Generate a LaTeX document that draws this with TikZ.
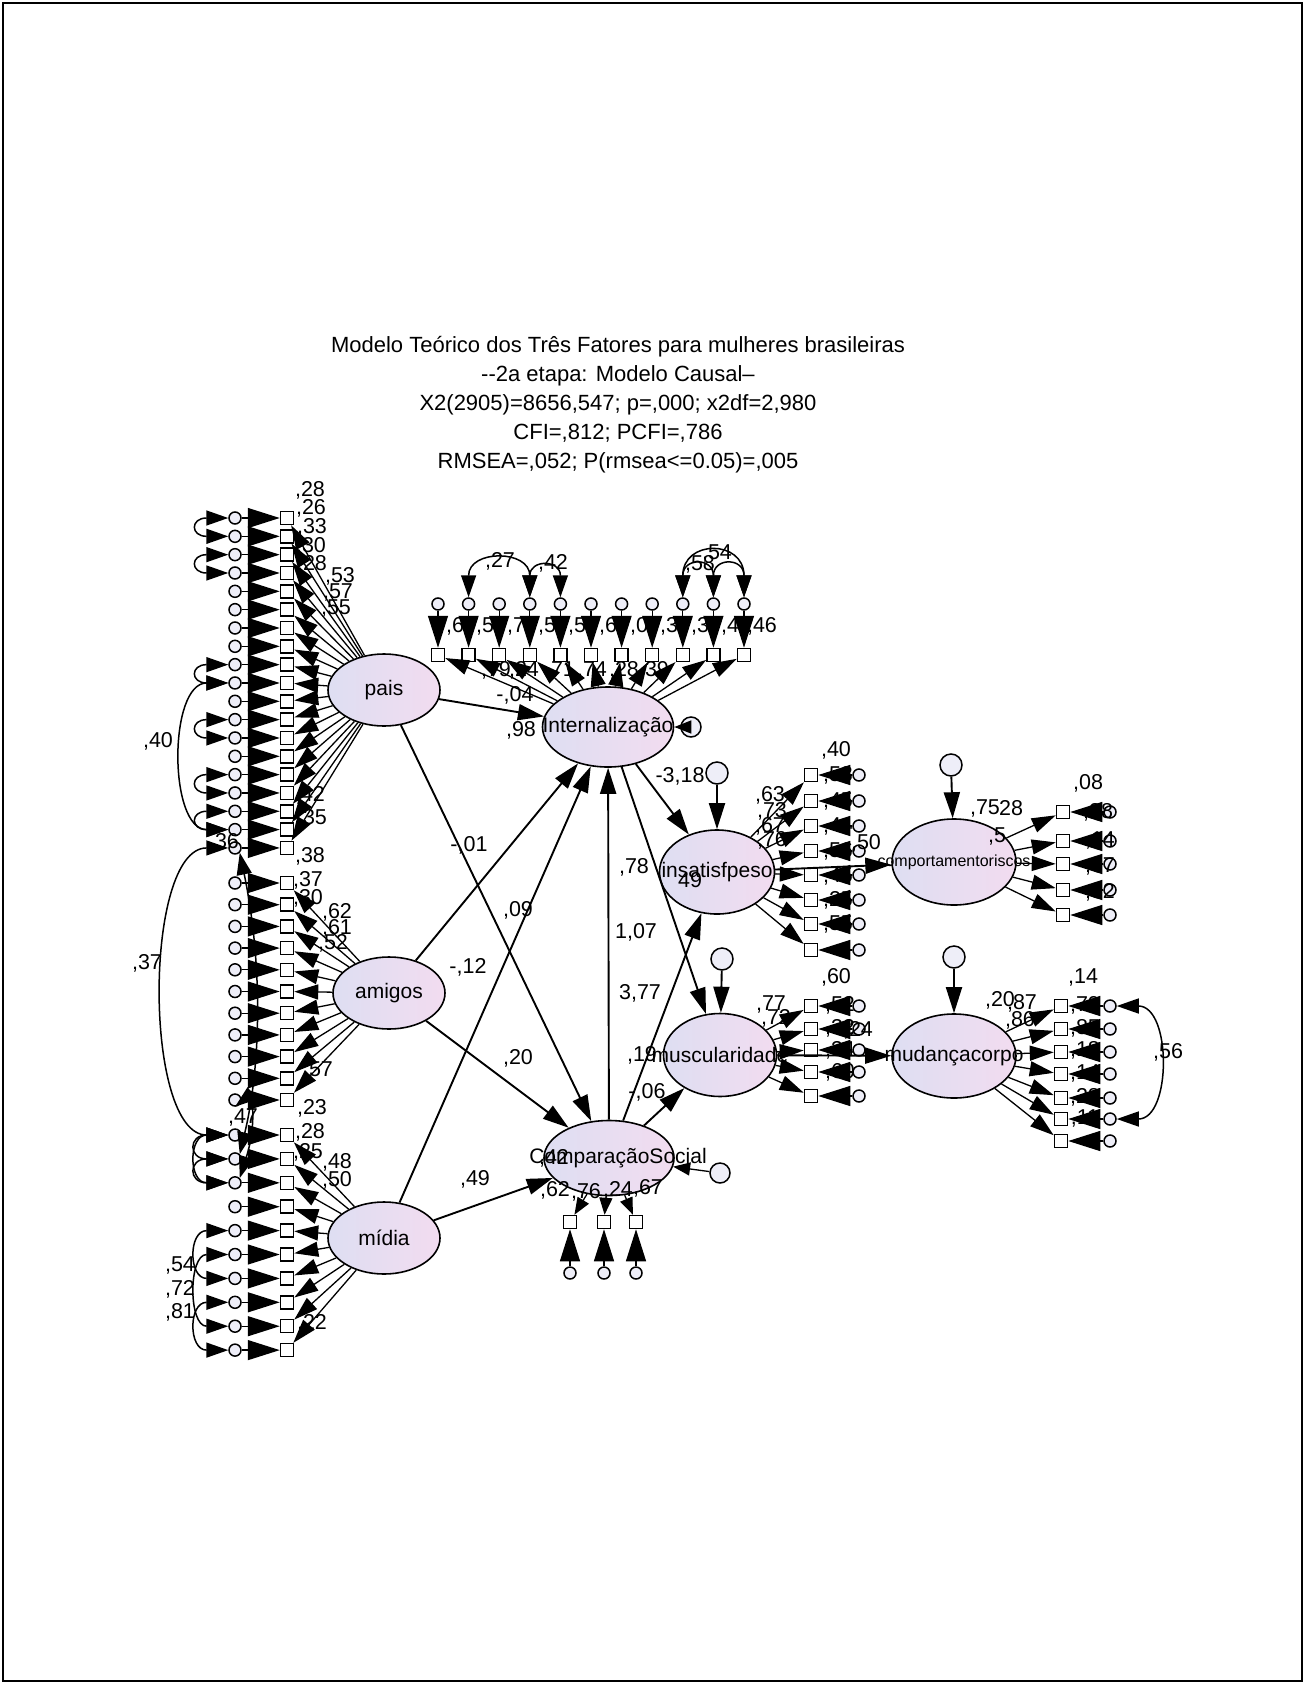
\documentclass[tikz,border=0pt]{standalone}
\usepackage{fontspec}
\setmainfont{Liberation Sans}
\usetikzlibrary{shapes.geometric,arrows.meta}
\definecolor{lavA}{RGB}{222,222,242}
\definecolor{lavB}{RGB}{242,220,240}
\newcounter{lbc}
\def\lbl(#1)#2{\stepcounter{lbc}\edef\lbn{lbl\arabic{lbc}}\node[lb] (\lbn) at (#1) {#2};}
\newcommand\zb[1]{\makebox[0pt]{#1}}
\begin{document}
\begin{tikzpicture}[x=1pt,y=-1pt,
 lat/.style={ellipse,draw,line width=1.6pt,left color=lavA,right color=lavB,inner sep=0pt,font=\fontsize{21}{21}\selectfont},
 obs/.style={rectangle,draw,line width=1.5pt,fill=white,minimum size=13pt,inner sep=0pt},
 err/.style={circle,draw,line width=1.5pt,fill=lavA!50,minimum size=12pt,inner sep=0pt},
 ld/.style={-{Triangle[length=24pt,width=15pt]},line width=1.3pt},
 lds/.style={-{Triangle[length=17pt,width=13pt]},line width=1.3pt},
 ea/.style={-{Triangle[length=32pt,width=20pt]},line width=1.3pt},
 pa/.style={-{Triangle[length=26pt,width=16pt]},line width=1.9pt},
 cv/.style={{Triangle[length=22pt,width=15pt]}-{Triangle[length=22pt,width=15pt]},line width=1.5pt},
 lb/.style={font=\fontsize{21.5}{21.5}\selectfont,inner sep=0pt}]
\useasboundingbox (0,0) rectangle (1305,1684);
\draw[line width=1.5pt] (3,3) rectangle (1302,1681);
\node[font=\fontsize{22}{29}\selectfont,align=center] (title) at (618,405) {Modelo Teórico dos Três Fatores para mulheres brasileiras\\-{}-2a etapa: Modelo Causal--\\X2(2905)=8656,547; p=,000; x2df=2,980\\CFI=,812; PCFI=,786\\RMSEA=,052; P(rmsea<=0.05)=,005};
% latent variables
\node[lat,minimum width=112pt,minimum height=72pt] (pais) at (384,690) {\zb{pais}};
\node[lat,minimum width=112pt,minimum height=72pt] (amigos) at (389,993) {\zb{amigos}};
\node[lat,minimum width=112pt,minimum height=72pt] (midia) at (384,1238) {\zb{mídia}};
\node[lat,minimum width=131pt,minimum height=80pt] (int) at (608,727) {\zb{Internalização}};
\node[lat,minimum width=130pt,minimum height=75pt] (cs) at (609,1158) {\zb{\hspace{18pt}ComparaçãoSocial}};
\node[lat,minimum width=115pt,minimum height=84pt] (ins) at (717,872) {\zb{insatisfpeso}};
\node[lat,minimum width=113pt,minimum height=83pt] (mus) at (720,1055) {\zb{muscularidade}};
\node[lat,minimum width=124pt,minimum height=86pt,font=\fontsize{16}{16}\selectfont] (comp) at (954,862) {\zb{comportamentoriscos}};
\node[lat,minimum width=124pt,minimum height=84pt] (mud) at (954,1056) {\zb{mudançacorpo}};
% left column
\foreach \i in {0,...,18}{
 \pgfmathsetmacro\yy{518+18.33*\i}
 \node[obs] (p\i) at (287,\yy) {};
 \node[err] (ep\i) at (235,\yy) {};}
\foreach \i in {0,...,10}{
 \pgfmathsetmacro\yy{883+21.7*\i}
 \node[obs] (a\i) at (287,\yy) {};
 \node[err] (ea\i) at (235,\yy) {};}
\foreach \i in {0,...,9}{
 \pgfmathsetmacro\yy{1135+23.9*\i}
 \node[obs] (d\i) at (287,\yy) {};
 \node[err] (ed\i) at (235,\yy) {};}
\foreach \i in {0,...,18}{\draw[ea] (ep\i) -- (p\i); \draw[ld] (pais) -- (p\i);}
\foreach \i in {0,...,10}{\draw[ea] (ea\i) -- (a\i); \draw[ld] (amigos) -- (a\i);}
\foreach \i in {0,...,9}{\draw[ea] (ed\i) -- (d\i); \draw[ld] (midia) -- (d\i);}
% error covariances left
\foreach \a/\b in {0/1,2/3,8/9,11/12,14/15,16/17}{
 \draw[cv] (ep\a.west) .. controls +(-38,0) and +(-38,0) .. (ep\b.west);}
\foreach \a/\b in {0/1,1/2,0/2,4/6,5/8,7/9}{
 \draw[cv] (ed\a.west) .. controls +(-40,0) and +(-40,0) .. (ed\b.west);}
\draw[cv] (ep9.west) .. controls +(-60,0) and +(-60,0) .. (ep17.west);
\draw[cv] (ep18.west) .. controls +(-85,0) and +(-85,0) .. (ed0.west);
\draw[cv] (ep18.south east) .. controls (262,960) and (262,1060) .. (ed1.north east);
\draw[cv] (ea10.south) .. controls (250,1095) and (258,1120) .. (ed2.north east);
% top: internalizacao indicators
\foreach \i in {0,...,10}{
 \pgfmathsetmacro\xx{438+30.6*\i}
 \node[obs] (t\i) at (\xx,655) {};
 \node[err] (et\i) at (\xx,604) {};}
\foreach \i in {0,...,10}{\draw[ea] (et\i) -- (t\i); \draw[ld] (int) -- (t\i);}
\draw[cv] (et1.north) .. controls +(0,-48) and +(0,-48) .. (et3.north);
\draw[cv] (et3.north) .. controls +(0,-38) and +(0,-38) .. (et4.north);
\draw[cv] (et8.north) .. controls +(0,-40) and +(0,-40) .. (et9.north);
\draw[cv] (et9.north) .. controls +(0,-40) and +(0,-40) .. (et10.north);
\draw[cv] (et8.north) .. controls +(0,-58) and +(0,-58) .. (et10.north);
% insatisfpeso indicators
\foreach \y [count=\i from 0] in {775,801,826,851,875,900,924,950}{
 \node[obs] (s\i) at (811,\y) {};
 \node[err] (es\i) at (859,\y) {};}
\foreach \i in {0,...,7}{\draw[ea] (es\i) -- (s\i); \draw[ld] (ins) -- (s\i);}
% comportamento indicators
\foreach \y [count=\i from 0] in {812,841,864,890,915}{
 \node[obs] (c\i) at (1063,\y) {};
 \node[err] (ec\i) at (1110,\y) {};}
\foreach \i in {0,...,4}{\draw[ea] (ec\i) -- (c\i); \draw[ld] (comp) -- (c\i);}
% muscularidade indicators
\foreach \y [count=\i from 0] in {1006,1029,1050,1072,1096}{
 \node[obs] (u\i) at (811,\y) {};
 \node[err] (eu\i) at (859,\y) {};}
\foreach \i in {0,...,4}{\draw[ea] (eu\i) -- (u\i); \draw[ld] (mus) -- (u\i);}
% mudanca indicators
\foreach \y [count=\i from 0] in {1006,1029,1052,1074,1098,1119,1141}{
 \node[obs] (g\i) at (1061,\y) {};
 \node[err] (eg\i) at (1110,\y) {};}
\foreach \i in {0,...,6}{\draw[ea] (eg\i) -- (g\i); \draw[ld] (mud) -- (g\i);}
\draw[cv] (eg0.east) .. controls +(55,0) and +(55,0) .. (eg5.east);
% comparacao indicators
\foreach \x [count=\i from 0] in {570,604,636}{
 \node[obs] (k\i) at (\x,1222) {};
 \node[err] (ek\i) at (\x,1273) {};}
\foreach \i in {0,...,2}{\draw[ea] (ek\i) -- (k\i); \draw[lds] (cs) -- (k\i);}
% structural error terms
\node[err,minimum size=20pt] (eint) at (691,727) {};
\node[err,minimum size=22pt] (eins) at (717,773) {};
\node[err,minimum size=22pt] (emus) at (722,959) {};
\node[err,minimum size=22pt] (ecomp) at (951,765) {};
\node[err,minimum size=22pt] (emud) at (954,957) {};
\node[err,minimum size=20pt] (ecs) at (720,1173) {};
\draw[lds] (eint) -- (int);
\draw[lds] (ecs) -- (cs);
\draw[pa] (eins) -- (ins);
\draw[pa] (emus) -- (mus);
\draw[pa] (ecomp) -- (comp);
\draw[pa] (emud) -- (mud);
% structural paths
\draw[pa] (pais) -- (int);
\draw[pa] (pais) -- (cs);
\draw[pa] (amigos) -- (int);
\draw[pa] (amigos) -- (cs);
\draw[pa] (midia) -- (int);
\draw[pa] (midia) -- (cs);
\draw[pa] (cs) -- (int);
\draw[pa] (int) -- (ins);
\draw[pa] (int) -- (mus);
\draw[pa] (cs) -- (ins);
\draw[pa] (cs) -- (mus);
\draw[pa] (ins) -- (comp);
\draw[pa] (mus) -- (mud);
% labels: left column
\lbl(310,490){,28} \lbl(311,508){,26} \lbl(312,527){,33} \lbl(311,546){,30} \lbl(312,564){,28}
\lbl(340,576){,53} \lbl(338,592){,57} \lbl(336,608){,55}
\lbl(310,795){,42} \lbl(312,818){,35} \lbl(310,856){,38}
\lbl(308,880){,37} \lbl(308,898){,30} \lbl(337,912){,62} \lbl(337,928){,61} \lbl(333,943){,52}
\lbl(318,1070){,57} \lbl(312,1108){,23}
\lbl(310,1132){,28} \lbl(308,1152){,25} \lbl(337,1162){,48} \lbl(337,1180){,50} \lbl(312,1323){,22}
\lbl(243,1117){,47} \lbl(180,1265){,54} \lbl(180,1289){,72} \lbl(180,1312){,81}
\lbl(158,741){,40} \lbl(224,842){,36} \lbl(147,963){,37}
% labels: top
\lbl(500,561){,27} \lbl(553,563){,42} \lbl(717,553){,54} \lbl(700,564){,58}
\lbl(455,626){,6} \lbl(485,626){,5} \lbl(516,626){,7} \lbl(547,626){,5} \lbl(577,626){,5}
\lbl(608,626){,6} \lbl(639,626){,0} \lbl(669,626){,3} \lbl(700,626){,3} \lbl(730,626){,4} \lbl(762,626){,46}
\lbl(496,670){,79} \lbl(524,670){,24} \lbl(560,670){,71} \lbl(592,670){,74} \lbl(624,670){,28} \lbl(654,670){,39}
% labels: structural
\lbl(515,695){-,04} \lbl(521,730){,98} \lbl(469,845){-,01} \lbl(518,910){,09} \lbl(468,967){-,12}
\lbl(518,1058){,20} \lbl(475,1179){,49} \lbl(554,1158){,42}
\lbl(636,932){1,07} \lbl(640,993){3,77} \lbl(680,776){-3,18} \lbl(634,867){,78} \lbl(690,880){49}
\lbl(642,1055){,19} \lbl(647,1092){-,06}
% labels: right side
\lbl(836,750){,40} \lbl(838,775){,58} \lbl(838,801){,45} \lbl(838,826){,44} \lbl(838,851){,56}
\lbl(838,876){,45} \lbl(838,900){,25} \lbl(838,924){,55}
\lbl(770,795){,63} \lbl(772,811){,73} \lbl(770,826){,67} \lbl(772,840){,76} \lbl(866,843){,50}
\lbl(985,808){,75} \lbl(1011,808){28} \lbl(997,836){,5}
\lbl(1088,783){,08} \lbl(1098,812){,28} \lbl(1100,840){,14} \lbl(1100,866){,07} \lbl(1100,892){,52}
\lbl(836,977){,60} \lbl(840,1005){,52} \lbl(840,1028){,32} \lbl(840,1050){,34} \lbl(840,1072){,60}
\lbl(771,1004){,77} \lbl(776,1018){,72} \lbl(858,1030){,24}
\lbl(1083,977){,14} \lbl(1085,1005){,79} \lbl(1085,1028){,85} \lbl(1085,1050){,18}
\lbl(1085,1073){,14} \lbl(1085,1097){,28} \lbl(1085,1118){,11}
\lbl(1000,1000){,20} \lbl(1022,1003){,87} \lbl(1020,1020){,86} \lbl(1168,1052){,56}
\lbl(555,1190){,62} \lbl(586,1192){,76} \lbl(618,1190){,24} \lbl(648,1188){,67}
\end{tikzpicture}
\end{document}
